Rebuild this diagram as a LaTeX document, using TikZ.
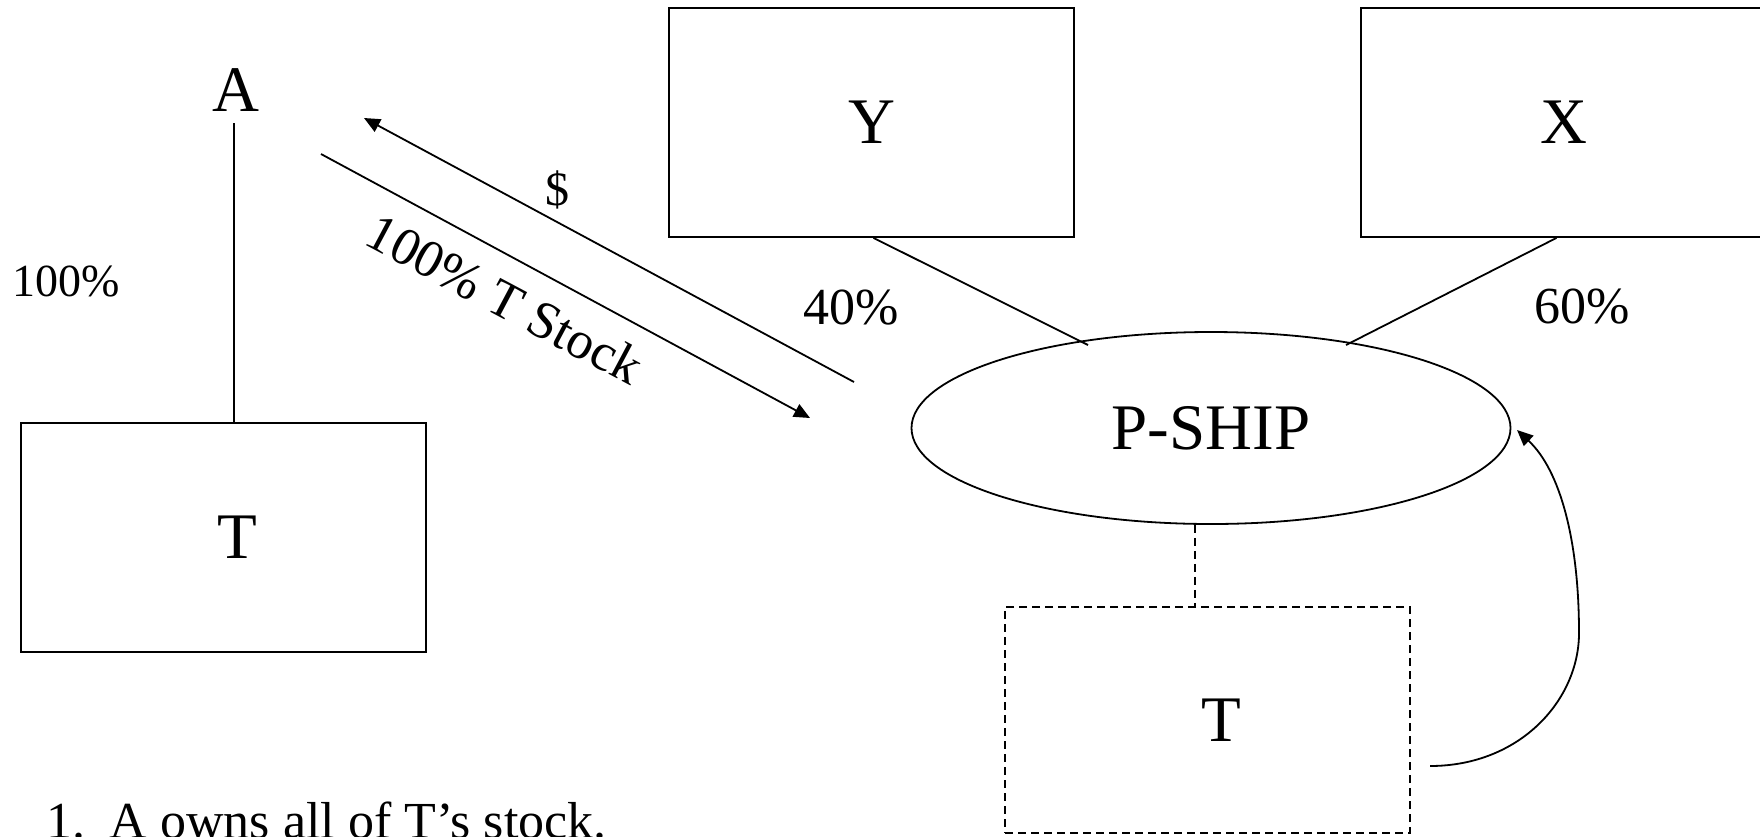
\documentclass[tikz,border=0pt]{standalone}
\usepackage{fontspec}
\setmainfont{Liberation Serif}
\usetikzlibrary{arrows.meta,calc,shapes.geometric}
\begin{document}
\begin{tikzpicture}[x=0.5pt,y=-0.5pt,
  line width=0.9pt,
  bigtxt/.style={font=\fontsize{32.5}{39}\selectfont, inner sep=0pt},
  pct/.style={font=\fontsize{26}{31}\selectfont, inner sep=0pt},
  entbox/.style={draw, rectangle, minimum width=202.5pt, minimum height=114.5pt, inner sep=0pt, font=\fontsize{32.5}{39}\selectfont},
  dashbox/.style={entbox, dash pattern=on 4pt off 2.5pt},
  arr/.style={-{Triangle[length=8pt,width=7pt]}},
]
\useasboundingbox (0,0) rectangle (1760,836);

% left side
\node[bigtxt] (A) at (236,90) {A};
\node[entbox, label={[bigtxt,xshift=7pt]center:T}] (T1) at (223.5,537.5) {};
\node[inner sep=0pt, font=\fontsize{23}{28}\selectfont] (p100) at (66,281) {100\%};
\draw[shorten <=5.5pt] ([xshift=-1pt]A.south) -- ([xshift=-1pt]A.south |- T1.north);

% top boxes
\node[entbox] (Y) at (871.5,122.5) {Y};
\node[entbox] (X) at (1563.5,122.5) {X};

% partnership
\node[draw, ellipse, minimum width=299.5pt, minimum height=96pt, inner sep=0pt,
      font=\fontsize{32.5}{39}\selectfont] (P) at (1211,428) {P-SHIP};
\node[dashbox, minimum height=113pt, label={[bigtxt,xshift=6.75pt]center:T}] (T2) at (1207.5,720) {};

\draw ([xshift=1pt]Y.south) -- ($(P.center)+(-123,-83)$);
\draw ([xshift=-3.5pt]X.south) -- ($(P.center)+(135,-83)$);
\node[pct] (p40) at (851,308) {40\%};
\node[pct] (p60) at (1582,307) {60\%};
\draw[dash pattern=on 4pt off 2.5pt] ([xshift=-8pt]P.south) -- ([xshift=-8pt]P.south |- T2.north);

% exchange arrows
\coordinate (s1) at (321,154);
\coordinate (e1) at (810,418);
\coordinate (s2) at (854,382);
\coordinate (e2) at (364,118);
\draw[arr] (s1) -- (e1);
\draw[arr] (s2) -- (e2);
\node[inner sep=0pt, font=\fontsize{24}{29}\selectfont] (dollar) at (557,190) {\$};
\node[inner sep=0pt, rotate=-28, font=\fontsize{26.5}{32}\selectfont] (stock) at (505,299) {100\% T Stock};

% curved arrow
\coordinate (c0) at (1430,766);
\coordinate (c1) at (1517,430);
\draw[arr] (c0) .. controls (1520,766) and (1579,700) .. (1579,633)
               .. controls (1579,540) and (1560,470) .. (c1);

% note
\node[anchor=base west, inner sep=0pt, font=\fontsize{26}{31}\selectfont] (note) at (46,838)
  {1.\hspace{12pt}A owns all of T’s stock.};
\end{tikzpicture}
\end{document}
